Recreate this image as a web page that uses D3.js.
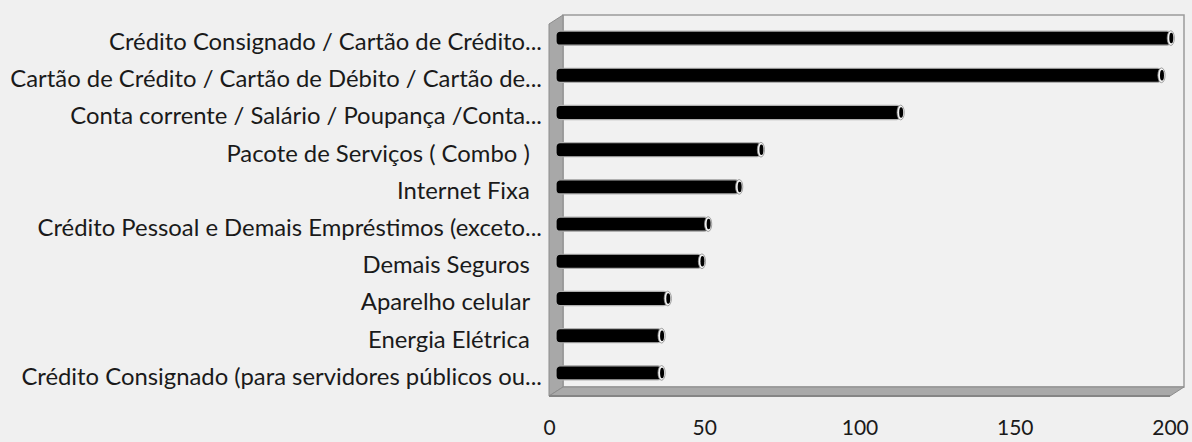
<!DOCTYPE html>
<html lang="pt">
<head>
<meta charset="utf-8" />
<title>Reclamações por assunto</title>
<script src="https://d3js.org/d3.v7.min.js"></script>
<style>
  html, body { margin: 0; padding: 0; background: #f0f0f0; }
  svg { display: block; }
  text { font-family: Lato, "Open Sans", sans-serif; fill: #1a1a1a; white-space: pre; }
</style>
</head>
<body>
<script>
// data
var categories = [
  "Crédito Consignado / Cartão de Crédito...",
  "Cartão de Crédito / Cartão de Débito / Cartão de...",
  "Conta corrente / Salário / Poupança /Conta...",
  "Pacote de Serviços ( Combo )  ",
  "Internet Fixa  ",
  "Crédito Pessoal e Demais Empréstimos (exceto...",
  "Demais Seguros  ",
  "Aparelho celular  ",
  "Energia Elétrica  ",
  "Crédito Consignado (para servidores públicos ou..."
];
var values = [198, 195, 111, 66, 59, 49, 47, 36, 34, 34];
var tickValues = [0, 50, 100, 150, 200];

var w = 1192, h = 442;
var dx = 14, dy = -9;   // depth of the 3d box

var svg = d3.select("body").append("svg")
  .attr("width", w)
  .attr("height", h);

var x = d3.scaleLinear().domain([0, 200]).range([549, 1170]);
var y = d3.scaleBand().domain(categories).range([24, 396]).paddingInner(0.62).paddingOuter(0.31);

var x0 = x(0), x1 = x(200), yTop = y.range()[0], yBot = y.range()[1];

// back wall
svg.append("rect")
  .attr("x", x0 + dx).attr("y", yTop + dy)
  .attr("width", x1 - x0).attr("height", yBot - yTop)
  .style("fill", "#f1f1f1")
  .style("stroke", "#9a9a9a")
  .style("stroke-width", 1.5);

// side wall
svg.append("polygon")
  .attr("points", [[x0, yTop], [x0 + dx, yTop + dy], [x0 + dx, yBot + dy], [x0, yBot]].join(" "))
  .style("fill", "#a8a8a8")
  .style("stroke", "#8c8c8c")
  .style("stroke-width", 1);

// floor
svg.append("polygon")
  .attr("points", [[x0, yBot], [x0 + dx, yBot + dy], [x1 + dx, yBot + dy], [x1, yBot]].join(" "))
  .style("fill", "#a9a9a9")
  .style("stroke", "#8c8c8c")
  .style("stroke-width", 1);
svg.append("line")
  .attr("x1", x0).attr("x2", x1)
  .attr("y1", yBot).attr("y2", yBot)
  .style("stroke", "#858585").style("stroke-width", 2);

// bars (cylinders, drawn at half depth)
var bh = y.bandwidth();
var bars = svg.selectAll("g.bar")
  .data(values)
  .enter()
  .append("g")
  .attr("class", "bar")
  .attr("transform", function(d, i) {
    return "translate(" + (dx / 2) + "," + (y(categories[i]) + dy / 2) + ")";
  });

bars.append("rect")
  .attr("x", x(0))
  .attr("y", 0)
  .attr("width", function(d) { return x(d) - x(0); })
  .attr("height", bh)
  .attr("rx", 4)
  .style("fill", "#000")
  .style("stroke", "#b0b0b0")
  .style("stroke-width", 1.2);

bars.append("ellipse")
  .attr("cx", function(d) { return x(d); })
  .attr("cy", bh / 2)
  .attr("rx", 3.6)
  .attr("ry", bh / 2 + 0.3)
  .style("fill", "#f4f4f4")
  .style("stroke", "#8a8a8a")
  .style("stroke-width", 0.8);

bars.append("ellipse")
  .attr("cx", function(d) { return x(d) + 0.5; })
  .attr("cy", bh / 2)
  .attr("rx", 2)
  .attr("ry", bh / 2 - 1.8)
  .style("fill", "#000");

// category labels
var labels = svg.selectAll("text.cat")
  .data(categories)
  .enter()
  .append("text")
  .attr("class", "cat")
  .attr("x", 542)
  .attr("y", function(d) { return y(d) + bh / 2 - 1; })
  .attr("dy", "0.35em")
  .attr("text-anchor", "end")
  .style("font-size", "20px")
  .text(function(d) { return d; });

// fit the label size to the widest label in the picture (about 532px)
var widest = d3.max(labels.nodes(), function(n) { return n.getComputedTextLength(); });
labels.style("font-size", (20 * 532 / widest) + "px");

// x axis
var xAxis = d3.axisBottom(x)
  .tickValues(tickValues)
  .tickSize(0)
  .tickPadding(24);

svg.append("g")
  .attr("transform", "translate(0," + yBot + ")")
  .call(xAxis)
  .call(function(g) { g.select(".domain").remove(); })
  .selectAll("text")
  .style("font-family", "Lato, 'Open Sans', sans-serif")
  .style("font-size", "21px")
  .style("fill", "#1a1a1a");
</script>
</body>
</html>
